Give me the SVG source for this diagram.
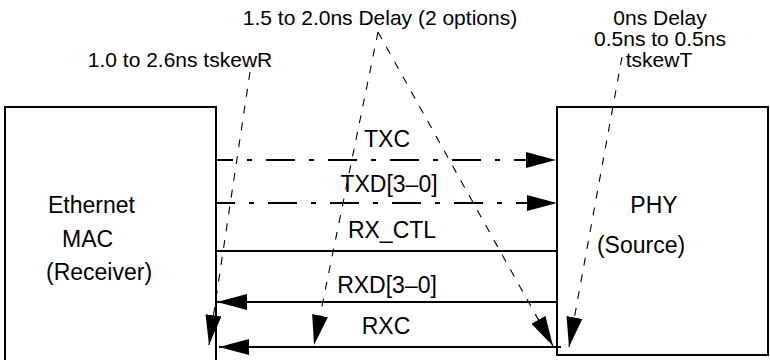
<svg xmlns="http://www.w3.org/2000/svg" width="770" height="360" viewBox="0 0 770 360">
<style>
text{font-family:"Liberation Sans",Arial,sans-serif;fill:#000}
.lbl{font-size:21px}
.big{font-size:23px}
.box{fill:#fff;stroke:#000;stroke-width:2}
.sig{fill:none;stroke:#000;stroke-width:2}
.dd{stroke-dasharray:29 14 5 14}
.skew{fill:none;stroke:#000;stroke-width:1.1;stroke-dasharray:8 9}
</style>
<defs>
<marker id="ah" markerUnits="userSpaceOnUse" viewBox="0 0 30 18" markerWidth="30" markerHeight="18" refX="30" refY="9" orient="auto">
<path d="M0,1 L30,9 L0,17 z" fill="#000"/>
</marker>
</defs>
<rect width="770" height="360" fill="#fff"/>
<g id="mac">
<rect class="box" x="5" y="107" width="211" height="260"/>
<text class="big" x="48" y="213">Ethernet</text>
<text class="big" x="62" y="247">MAC</text>
<text class="big" x="46" y="280">(Receiver)</text>
</g>
<g id="phy">
<rect class="box" x="557" y="107" width="211" height="248"/>
<text class="big" x="654" y="213" text-anchor="middle">PHY</text>
<text class="big" x="641" y="253" text-anchor="middle">(Source)</text>
</g>
<g id="connectors">
<line class="sig dd" x1="217" y1="160" x2="556" y2="160" stroke-dashoffset="13" marker-end="url(#ah)"/>
<line class="sig dd" x1="217" y1="203" x2="557" y2="203" stroke-dashoffset="11" marker-end="url(#ah)"/>
<line class="sig" x1="216" y1="251" x2="557" y2="251"/>
<line class="sig" x1="557" y1="302" x2="217" y2="302" marker-end="url(#ah)"/>
<line class="sig" x1="561" y1="347" x2="219" y2="347" marker-end="url(#ah)"/>
<line class="skew" x1="250" y1="72" x2="209" y2="345" marker-end="url(#ah)"/>
<line class="skew" x1="378" y1="32" x2="314" y2="345" marker-end="url(#ah)"/>
<line class="skew" x1="378" y1="32" x2="553" y2="346" marker-end="url(#ah)"/>
<line class="skew" x1="622" y1="57" x2="569" y2="347" marker-end="url(#ah)"/>
</g>
<g id="labels">
<text class="lbl" x="380" y="25" text-anchor="middle">1.5 to 2.0ns Delay (2 options)</text>
<text class="lbl" x="180" y="67" text-anchor="middle">1.0 to 2.6ns tskewR</text>
<text class="lbl" x="660" y="25" text-anchor="middle">0ns Delay</text>
<text class="lbl" x="660" y="46" text-anchor="middle">0.5ns to 0.5ns</text>
<text class="lbl" x="659" y="67" text-anchor="middle">tskewT</text>
<text class="big" x="387" y="147" text-anchor="middle">TXC</text>
<text class="big" x="389" y="192" text-anchor="middle">TXD[3–0]</text>
<text class="big" x="392" y="238" text-anchor="middle">RX_CTL</text>
<text class="big" x="387" y="293" text-anchor="middle">RXD[3–0]</text>
<text class="big" x="386" y="334" text-anchor="middle">RXC</text>
</g>
</svg>
